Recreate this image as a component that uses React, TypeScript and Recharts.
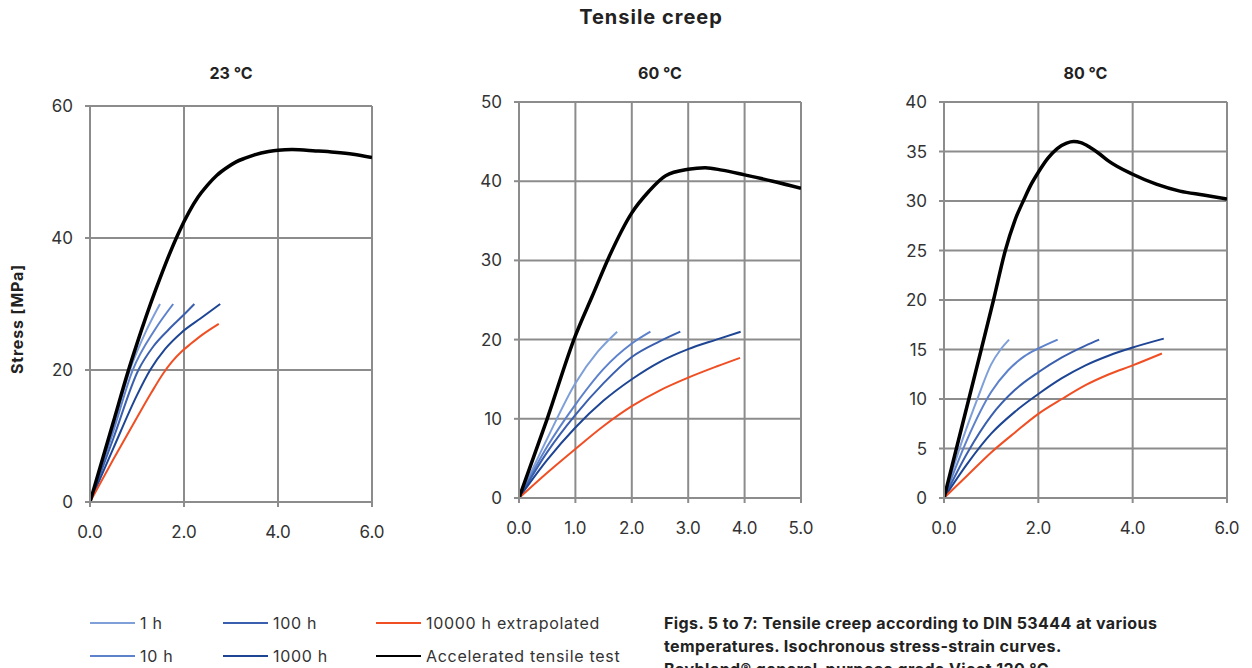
import React from "react";
import { LineChart, Line, XAxis, YAxis, CartesianGrid } from "recharts";

type Pt = { x: number; y: number };
const pts = (xs: number[], ys: number[]): Pt[] => xs.map((x, i) => ({ x, y: ys[i] }));

// series names + colours (legend order)
const seriesNames = ["1 h", "10 h", "100 h", "1000 h", "10000 h extrapolated", "Accelerated tensile test"];
const seriesColors = ["#7f9fd9", "#5d82cb", "#3a5fae", "#1d4594", "#f04f24", "#000000"];

// 23 °C
const t23_1h = pts([0, 0.5, 0.85, 1.2, 1.49], [0, 11.5, 20, 26, 30]);
const t23_10h = pts([0, 0.5, 0.91, 1.38, 1.77], [0, 10.8, 20, 26.1, 30]);
const t23_100h = pts([0, 0.5, 1.03, 1.35, 1.67, 2.0, 2.22], [0, 9.7, 20, 23.6, 26.1, 28.4, 30]);
const t23_1000h = pts([0, 0.5, 1.0, 1.28, 1.6, 1.95, 2.35, 2.77], [0, 8.2, 16.2, 20, 23.2, 25.7, 27.8, 30]);
const t23_10000h = pts(
  [0, 0.5, 1.0, 1.3, 1.55, 1.75, 1.95, 2.15, 2.4, 2.74],
  [0, 6.5, 12.8, 16.5, 19.4, 21.3, 22.8, 24.0, 25.4, 27]
);
const t23_tensile = pts(
  [0, 0.2, 0.5, 0.82, 1.0, 1.4, 1.9, 2.3, 2.5, 2.7, 2.9, 3.1, 3.3, 3.5, 3.8, 4.0, 4.3, 4.8, 5.2, 5.6, 6.0],
  [0, 4.9, 12.2, 20, 24, 32.2, 41, 46.2, 48.0, 49.5, 50.6, 51.5, 52.1, 52.6, 53.1, 53.3, 53.4, 53.2, 53.0, 52.7, 52.2]
);

// 60 °C
const t60_1h = pts([0, 0.5, 1.0, 1.4, 1.74], [0, 7.5, 14.5, 18.5, 21]);
const t60_10h = pts([0, 0.5, 1.0, 1.5, 2.0, 2.33], [0, 6.5, 11.8, 16.3, 19.5, 21]);
const t60_100h = pts([0, 0.5, 1.0, 1.5, 2.0, 2.5, 2.86], [0, 5.8, 10.5, 14.5, 17.8, 19.8, 21]);
const t60_1000h = pts([0, 0.5, 1.0, 1.5, 2.0, 2.5, 3.0, 3.5, 3.93], [0, 4.8, 8.9, 12.3, 15, 17.2, 18.8, 20, 21]);
const t60_10000h = pts([0, 0.5, 1.0, 1.5, 2.0, 2.5, 3.0, 3.5, 3.92], [0, 3.2, 6.2, 9.1, 11.6, 13.6, 15.2, 16.6, 17.7]);
const t60_tensile = pts(
  [0, 0.5, 1.0, 1.3, 1.6, 2.0, 2.3, 2.6, 3.0, 3.3, 3.6, 4.0, 4.5, 5.0],
  [0, 10, 20.5, 25.5, 30.5, 36, 38.7, 40.7, 41.5, 41.7, 41.4, 40.8, 40, 39.1]
);

// 80 °C
const t80_1h = pts([0, 0.4, 0.73, 1.0, 1.2, 1.38], [0, 6, 10.3, 13.5, 15, 16]);
const t80_10h = pts([0, 0.5, 1.0, 1.36, 1.7, 2.0, 2.41], [0, 6, 10.7, 12.9, 14.3, 15.1, 16]);
const t80_100h = pts([0, 0.5, 1.0, 1.5, 2.0, 2.5, 3.0, 3.29], [0, 4.6, 8.3, 10.9, 12.7, 14.2, 15.4, 16]);
const t80_1000h = pts([0, 0.5, 1.0, 1.5, 2.0, 2.5, 3.0, 3.5, 4.0, 4.66], [0, 3.5, 6.5, 8.7, 10.5, 12.1, 13.4, 14.4, 15.2, 16.1]);
const t80_10000h = pts([0, 0.5, 1.0, 1.5, 2.0, 2.5, 3.0, 3.5, 4.0, 4.62], [0, 2.3, 4.6, 6.6, 8.5, 10.0, 11.4, 12.5, 13.4, 14.6]);
const t80_tensile = pts(
  [0, 0.4, 0.8, 1.05, 1.3, 1.5, 1.7, 1.85, 2.0, 2.2, 2.4, 2.6, 2.75, 2.9, 3.1, 3.3, 3.5, 4.0, 4.5, 5.0, 5.5, 6.0],
  [0, 7.6, 15.2, 20, 25, 28, 30.2, 31.7, 32.9, 34.3, 35.3, 35.85, 36, 35.9, 35.4, 34.75, 34, 32.7, 31.7, 31, 30.6, 30.2]
);

const xTicks23 = [0, 2, 4, 6];
const yTicks23 = [0, 20, 40, 60];
const xTicks60 = [0, 1, 2, 3, 4, 5];
const yTicks60 = [0, 10, 20, 30, 40, 50];
const xTicks80 = [0, 2, 4, 6];
const yTicks80 = [0, 5, 10, 15, 20, 25, 30, 35, 40];

const FONT = "Inter, Roboto, 'Liberation Sans', sans-serif";
const GRID = "#8c8c8c";

type PanelProps = {
  title: string;
  series: Pt[][];
  xTicks: number[];
  yTicks: number[];
  plotLeft: number;
  plotTop: number;
  plotW: number;
  plotH: number;
};

const Panel = ({ title, series, xTicks, yTicks, plotLeft, plotTop, plotW, plotH }: PanelProps) => {
  const yw = 60;
  const mt = 10;
  const xh = 44;
  const mr = 20;
  return (
    <>
      <div
        style={{
          position: "absolute",
          left: plotLeft,
          width: plotW,
          top: 63,
          textAlign: "center",
          fontFamily: FONT,
          fontWeight: 700,
          fontSize: 16,
          color: "#222",
        }}
      >
        {title}
      </div>
      <div style={{ position: "absolute", left: plotLeft - yw, top: plotTop - mt }}>
        <LineChart
          width={plotW + yw + mr}
          height={plotH + mt + xh}
          margin={{ top: mt, right: mr, bottom: 0, left: 0 }}
        >
          <CartesianGrid stroke={GRID} strokeWidth={2} horizontalValues={yTicks} verticalValues={xTicks} />
          <XAxis
            dataKey="x"
            type="number"
            domain={[xTicks[0], xTicks[xTicks.length - 1]]}
            ticks={xTicks}
            tickFormatter={(v: number) => v.toFixed(1)}
            height={xh}
            stroke={GRID}
            strokeWidth={2}
            tickSize={5}
            tickMargin={19}
            tick={{ fill: "#333", fontSize: 17, fontFamily: FONT }}
            allowDataOverflow
          />
          <YAxis
            type="number"
            domain={[yTicks[0], yTicks[yTicks.length - 1]]}
            ticks={yTicks}
            width={yw}
            stroke={GRID}
            strokeWidth={2}
            tickSize={5}
            tickMargin={12}
            tick={{ fill: "#333", fontSize: 17, fontFamily: FONT }}
            allowDataOverflow
          />
          {series.map((d, i) => (
            <Line
              key={seriesNames[i]}
              data={d}
              dataKey="y"
              type="monotone"
              stroke={seriesColors[i]}
              strokeWidth={i === 5 ? 3.5 : 2}
              dot={false}
              isAnimationActive={false}
            />
          ))}
        </LineChart>
      </div>
    </>
  );
};

const Legend = () => {
  const cols = [90, 223, 376];
  const rows = [623, 656];
  return (
    <>
      {seriesNames.map((name, i) => {
        const col = Math.floor(i / 2);
        const row = i % 2;
        return (
          <div
            key={name}
            style={{
              position: "absolute",
              left: cols[col],
              top: rows[row] - 11,
              height: 22,
              display: "flex",
              alignItems: "center",
              fontFamily: FONT,
              fontSize: 16,
              letterSpacing: 0.7,
              color: "#333",
              whiteSpace: "nowrap",
            }}
          >
            <span style={{ display: "inline-block", width: 45, height: 0, borderTop: `2.5px solid ${seriesColors[i]}`, marginRight: 5 }} />
            {name}
          </div>
        );
      })}
    </>
  );
};

export default function App() {
  return (
    <div
      style={{
        position: "absolute",
        left: 0,
        top: 0,
        width: 1252,
        height: 668,
        overflow: "hidden",
        background: "#fff",
      }}
    >
      <div
        style={{
          position: "absolute",
          left: 0,
          width: 1302,
          top: 5,
          textAlign: "center",
          fontFamily: FONT,
          fontWeight: 700,
          fontSize: 20,
          letterSpacing: 1,
          color: "#222",
        }}
      >
        Tensile creep
      </div>
      <div
        style={{
          position: "absolute",
          left: 17,
          top: 319,
          transform: "translate(-50%, -50%) rotate(-90deg)",
          fontFamily: FONT,
          fontWeight: 700,
          fontSize: 16,
          letterSpacing: 0.8,
          color: "#222",
          whiteSpace: "nowrap",
        }}
      >
        Stress [MPa]
      </div>
      <Panel
        title="23 °C"
        series={[t23_1h, t23_10h, t23_100h, t23_1000h, t23_10000h, t23_tensile]}
        xTicks={xTicks23}
        yTicks={yTicks23}
        plotLeft={90}
        plotTop={106}
        plotW={282}
        plotH={396}
      />
      <Panel
        title="60 °C"
        series={[t60_1h, t60_10h, t60_100h, t60_1000h, t60_10000h, t60_tensile]}
        xTicks={xTicks60}
        yTicks={yTicks60}
        plotLeft={519}
        plotTop={102}
        plotW={282}
        plotH={396}
      />
      <Panel
        title="80 °C"
        series={[t80_1h, t80_10h, t80_100h, t80_1000h, t80_10000h, t80_tensile]}
        xTicks={xTicks80}
        yTicks={yTicks80}
        plotLeft={944}
        plotTop={102}
        plotW={283}
        plotH={396}
      />
      <Legend />
      <div
        style={{
          position: "absolute",
          left: 664,
          top: 612,
          fontFamily: FONT,
          fontWeight: 700,
          fontSize: 16,
          letterSpacing: 0.4,
          lineHeight: "23px",
          color: "#222",
          whiteSpace: "nowrap",
        }}
      >
        Figs. 5 to 7: Tensile creep according to DIN 53444 at various
        <br />
        temperatures. Isochronous stress-strain curves.
        <br />
        Bayblend® general-purpose grade Vicat 120 °C
      </div>
    </div>
  );
}
